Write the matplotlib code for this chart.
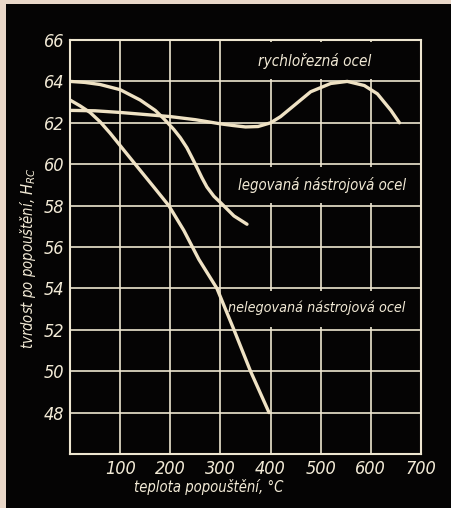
import matplotlib
matplotlib.use("Agg")
import matplotlib.pyplot as plt
from matplotlib import font_manager
from matplotlib.patches import Rectangle

# ---- data ----
t_hss = [0, 50, 100, 150, 200, 250, 300, 325, 350, 375, 400, 420, 440, 480, 520, 553, 587, 613, 640, 657]
h_hss = [62.6, 62.58, 62.5, 62.4, 62.3, 62.15, 61.95, 61.87, 61.8, 61.82, 62.0, 62.3, 62.7, 63.5, 63.9, 64.0, 63.8, 63.4, 62.6, 62.0]

t_alloy = [0, 30, 60, 100, 140, 170, 187, 207, 220, 233, 243, 253, 263, 273, 287, 300, 327, 353]
h_alloy = [64.0, 63.95, 63.85, 63.6, 63.1, 62.6, 62.2, 61.68, 61.28, 60.8, 60.33, 59.85, 59.35, 58.9, 58.45, 58.15, 57.5, 57.1]

t_carbon = [0, 20, 40, 60, 80, 100, 130, 167, 197, 227, 257, 293, 327, 360, 397]
h_carbon = [63.1, 62.82, 62.5, 62.05, 61.5, 60.9, 60.0, 58.9, 58.0, 56.8, 55.4, 54.0, 52.0, 50.0, 48.0]

x_ticks = [100, 200, 300, 400, 500, 600, 700]
y_ticks = [48, 50, 52, 54, 56, 58, 60, 62, 64, 66]

labels = ["rychlořezná ocel", "legovaná nástrojová ocel", "nelegovaná nástrojová ocel"]
label_pos = [(488, 65.0), (503, 59.0), (492, 53.05)]
label_size = [11, 10.7, 10.3]

xlabel = "teplota popouštění, °C"
ylabel = "tvrdost po popouštění, $H_{RC}$"

# ---- fonts ----
names = {f.name for f in font_manager.fontManager.ttflist}
if "Liberation Sans Narrow" in names:
    fam = "Liberation Sans Narrow"
    stretch = "normal"
else:
    fam = "DejaVu Sans"
    stretch = "condensed"
plt.rcParams["font.family"] = [fam, "DejaVu Sans"]
plt.rcParams["mathtext.fontset"] = "custom"
plt.rcParams["mathtext.it"] = fam + ":italic"
plt.rcParams["mathtext.rm"] = fam + ":italic"

cream = "#f2ead6"
curve_col = "#efe2c4"
grid_col = "#eee6d0"
black = "#050404"

fig = plt.figure(figsize=(4.51, 5.08), dpi=100)
fig.patch.set_facecolor("#ead8c9")
bg = Rectangle((6 / 451, 0), 1, (508 - 4) / 508, transform=fig.transFigure,
               facecolor=black, edgecolor="none", zorder=-10)
fig.add_artist(bg)

ax = fig.add_axes([70 / 451, 1 - 454 / 508, (421 - 70) / 451, (454 - 40) / 508])
ax.set_zorder(1)
ax.set_facecolor(black)
ax.set_xlim(0, 700)
ax.set_ylim(46, 66)

# grid
for xv in x_ticks:
    ax.axvline(xv, color=grid_col, lw=1.2, zorder=1)
for yv in y_ticks:
    ax.axhline(yv, color=grid_col, lw=1.2, zorder=1)

# black boxes behind labels that interrupt the grid
for (x0, y0, w, h) in [(305, 64.12, 390, 1.76), (335, 58.12, 360, 1.76), (305, 52.12, 390, 1.76)]:
    ax.add_patch(Rectangle((x0, y0), w, h, facecolor=black, edgecolor="none", zorder=2))

for t, h in [(t_hss, h_hss), (t_alloy, h_alloy), (t_carbon, h_carbon)]:
    ax.plot(t, h, color=curve_col, lw=2.4, solid_capstyle="round", solid_joinstyle="round", zorder=3)

for txt, (xx, yy), fs in zip(labels, label_pos, label_size):
    ax.text(xx, yy, txt, color=cream, fontsize=fs, style="italic", fontstretch=stretch,
            ha="center", va="center", zorder=4)

for s in ax.spines.values():
    s.set_color(grid_col)
    s.set_linewidth(1.5)
    s.set_zorder(5)

ax.set_xticks(x_ticks)
ax.set_yticks(y_ticks)
ax.tick_params(length=0, colors=cream, labelsize=13, pad=4)
for lab in ax.get_xticklabels() + ax.get_yticklabels():
    lab.set_style("italic")
    lab.set_fontstretch(stretch)
    lab.set_color(cream)

fig.text(209 / 451, 1 - 487 / 508, xlabel, color=cream, fontsize=10.6, style="italic",
         fontstretch=stretch, ha="center", va="center")
fig.text(28 / 451, 1 - 258 / 508, ylabel, color=cream, fontsize=10.6, style="italic",
         fontstretch=stretch, ha="center", va="center", rotation=90)

fig.savefig("out.png", dpi=100, facecolor=fig.get_facecolor())
